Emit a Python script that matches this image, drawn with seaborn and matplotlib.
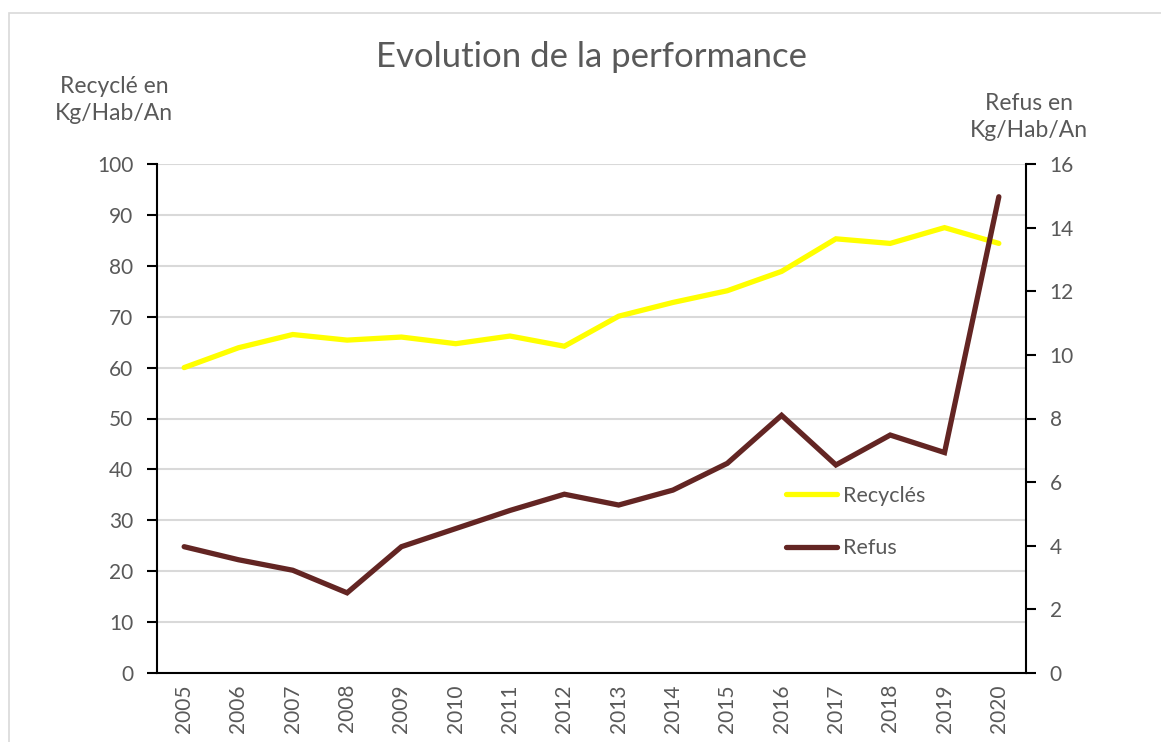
import numpy as np
import pandas as pd
import seaborn as sns
import matplotlib.pyplot as plt
from matplotlib.patches import Rectangle
from matplotlib.lines import Line2D

# data
annees = ["2005", "2006", "2007", "2008", "2009", "2010", "2011", "2012",
          "2013", "2014", "2015", "2016", "2017", "2018", "2019", "2020"]
recycles = [60.0, 63.9, 66.5, 65.4, 66.0, 64.7, 66.2, 64.2,
            70.1, 72.8, 75.1, 78.9, 85.3, 84.4, 87.5, 84.4]
refus = [3.97, 3.56, 3.23, 2.52, 3.97, 4.54, 5.11, 5.62,
         5.28, 5.75, 6.59, 8.10, 6.54, 7.48, 6.93, 14.97]

df = pd.DataFrame({"pos": np.arange(len(annees)), "annee": annees,
                   "Recyclés": recycles, "Refus": refus})

sns.set_style("white")
plt.rcParams["font.family"] = ["Lato", "DejaVu Sans"]
gris = "#595959"
jaune = "#FFFF00"
brun = "#632523"

fig = plt.figure(figsize=(11.61, 7.42), dpi=100)
# chart frame (clipped on the right and bottom like the screenshot)
fig.patches.append(Rectangle((9 / 1161, -0.1), 1.2, 1 - 13 / 742 + 0.1,
                             transform=fig.transFigure, fill=False,
                             edgecolor="#d9d9d9", linewidth=1.2))

ax = fig.add_axes([157 / 1161, 1 - 673 / 742, (1026 - 157) / 1161, (673 - 164) / 742])
ax2 = ax.twinx()

sns.lineplot(data=df, x="pos", y="Recyclés", ax=ax, color=jaune, linewidth=3.8,
             solid_capstyle="round", solid_joinstyle="miter", zorder=3)
sns.lineplot(data=df, x="pos", y="Refus", ax=ax2, color=brun, linewidth=3.8,
             solid_capstyle="round", solid_joinstyle="miter", zorder=3)

ax.set_xlim(-0.5, len(annees) - 0.5)
ax.set_ylim(0, 100)
ax2.set_ylim(0, 16)
ax.set_yticks(range(0, 101, 10))
ax2.set_yticks(range(0, 17, 2))

# category axis: ticks between years, labels at centres
ax.set_xticks(np.arange(-0.5, len(annees), 1.0))
ax.set_xticklabels([])
ax.set_xticks(df["pos"], minor=True)
ax.set_xticklabels(annees, minor=True, rotation=90, fontsize=15, color=gris)
ax.tick_params(axis="x", which="major", length=7, width=1.5, color="black", direction="out")
ax.tick_params(axis="x", which="minor", length=0, pad=8)

ax.grid(axis="y", color="#d9d9d9", linewidth=1.5)
ax.set_axisbelow(True)
ax.tick_params(axis="y", length=7, width=1.5, color="black", direction="out",
               labelsize=15, labelcolor=gris, pad=10, left=True)
ax2.tick_params(axis="y", length=7, width=1.5, color="black", direction="out",
                labelsize=15, labelcolor=gris, pad=10, right=True)

for a in (ax, ax2):
    a.set_xlabel("")
    a.set_ylabel("")
    for s in a.spines.values():
        s.set_visible(False)
ax.spines["left"].set_visible(True)
ax.spines["bottom"].set_visible(True)
ax2.spines["right"].set_visible(True)
for s in (ax.spines["left"], ax.spines["bottom"], ax2.spines["right"]):
    s.set_color("black")
    s.set_linewidth(1.5)

fig.text(591 / 1161, 1 - 57 / 742, "Evolution de la performance", ha="center",
         va="center", fontsize=25, color=gris)
fig.text(114 / 1161, 1 - 100 / 742, "Recyclé en\nKg/Hab/An", ha="center",
         va="center", fontsize=16.5, color=gris, linespacing=1.35)
fig.text(1029 / 1161, 1 - 117 / 742, "Refus en\nKg/Hab/An", ha="center",
         va="center", fontsize=16.5, color=gris, linespacing=1.35)

handles = [Line2D([], [], color=jaune, linewidth=3.8, solid_capstyle="round"),
           Line2D([], [], color=brun, linewidth=3.8, solid_capstyle="round")]
leg = ax2.legend(handles, ["Recyclés", "Refus"], loc="upper left",
                 bbox_to_anchor=(786 / 1161, 1 - 486 / 742),
                 bbox_transform=fig.transFigure, frameon=False, fontsize=15.5,
                 handlelength=2.35, handletextpad=0.3, labelspacing=1.5,
                 borderpad=0, borderaxespad=0, labelcolor=gris)

fig.savefig("out.png", dpi=100, facecolor="white")
